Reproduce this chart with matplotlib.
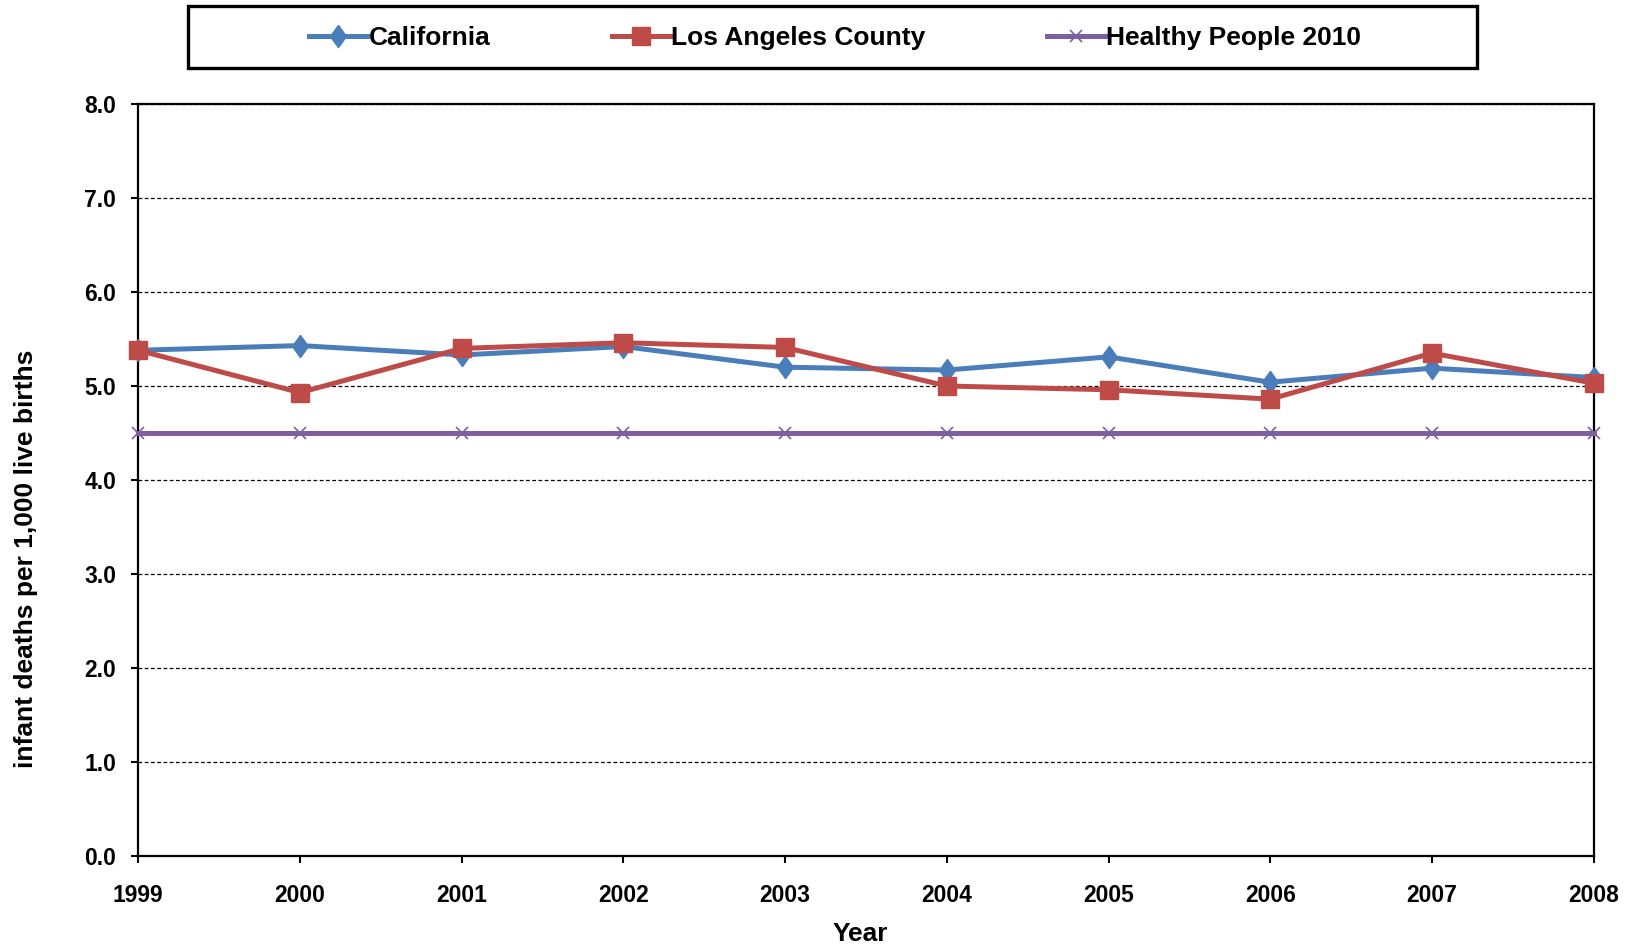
import matplotlib
matplotlib.use("Agg")
import matplotlib.pyplot as plt
from matplotlib.patches import Rectangle

# ── data ────────────────────────────────────────────────────────────
years = [1999, 2000, 2001, 2002, 2003, 2004, 2005, 2006, 2007, 2008]
california = [5.38, 5.43, 5.33, 5.42, 5.20, 5.17, 5.31, 5.04, 5.19, 5.09]
la_county = [5.38, 4.93, 5.40, 5.46, 5.41, 5.00, 4.96, 4.86, 5.35, 5.03]
healthy_people = [4.5] * len(years)
y_ticks = [0, 1, 2, 3, 4, 5, 6, 7, 8]

plt.rcParams["font.family"] = ["Liberation Sans", "DejaVu Sans"]
plt.rcParams["font.weight"] = "bold"

# Excel-style diamond: a little narrower than tall
diamond = [(0, 1), (0.72, 0), (0, -1), (-0.72, 0), (0, 1)]

W, H = 1631, 952
fig = plt.figure(figsize=(W / 100, H / 100), dpi=100)
ax = fig.add_axes([138.3 / W, 1 - 856 / H, (1593.6 - 138.3) / W, (856 - 104) / H])

ax.plot(years, california, color="#4A7EBB", lw=3.6, marker=diamond, ms=16,
        mec="#4A7EBB", mfc="#4A7EBB", label="California", clip_on=False, zorder=4)
ax.plot(years, la_county, color="#BE4B48", lw=3.6, marker="s", ms=13.5,
        mec="#BE4B48", mfc="#BE4B48", label="Los Angeles County", clip_on=False, zorder=5)
ax.plot(years, healthy_people, color="#7D60A0", lw=3.6, marker="x", ms=8,
        mew=1.2, label="Healthy People 2010", clip_on=False, zorder=3)

ax.set_xlim(years[0], years[-1])
ax.set_ylim(0, 8)
ax.set_xticks(years)
ax.set_yticks(y_ticks)
ax.set_yticklabels([f"{v:.1f}" for v in y_ticks])
ax.yaxis.grid(True, color="black", ls=(0, (3, 2)), lw=0.9)
ax.set_axisbelow(True)

for s in ax.spines.values():
    s.set_linewidth(1.6)
ax.tick_params(direction="out", length=5, width=1.5, labelsize=16.5)
ax.tick_params(axis="x", pad=15)
ax.tick_params(axis="y", pad=11)
for lab in ax.get_xticklabels() + ax.get_yticklabels():
    lab.set_fontweight("bold")

ax.set_xlabel("Year", fontsize=19, fontweight="bold")
ax.xaxis.set_label_coords(0.496, -0.088)
ax.set_ylabel("infant deaths per 1,000 live births", fontsize=19, fontweight="bold")
ax.yaxis.set_label_coords(-0.069, 0.395)

# legend box drawn separately, entries centred inside it
fig.add_artist(Rectangle((188 / W, 1 - 68 / H), (1477 - 188) / W, 62 / H,
                         transform=fig.transFigure, fill=False, ec="black", lw=2.4))
leg = fig.legend(loc="center", bbox_to_anchor=(835 / W, 1 - 38 / H),
                 ncol=3, fontsize=19, frameon=False,
                 handlelength=2.2, handletextpad=0.05, columnspacing=4.6)
for t in leg.get_texts():
    t.set_fontweight("bold")

fig.savefig("out.png", dpi=100)
